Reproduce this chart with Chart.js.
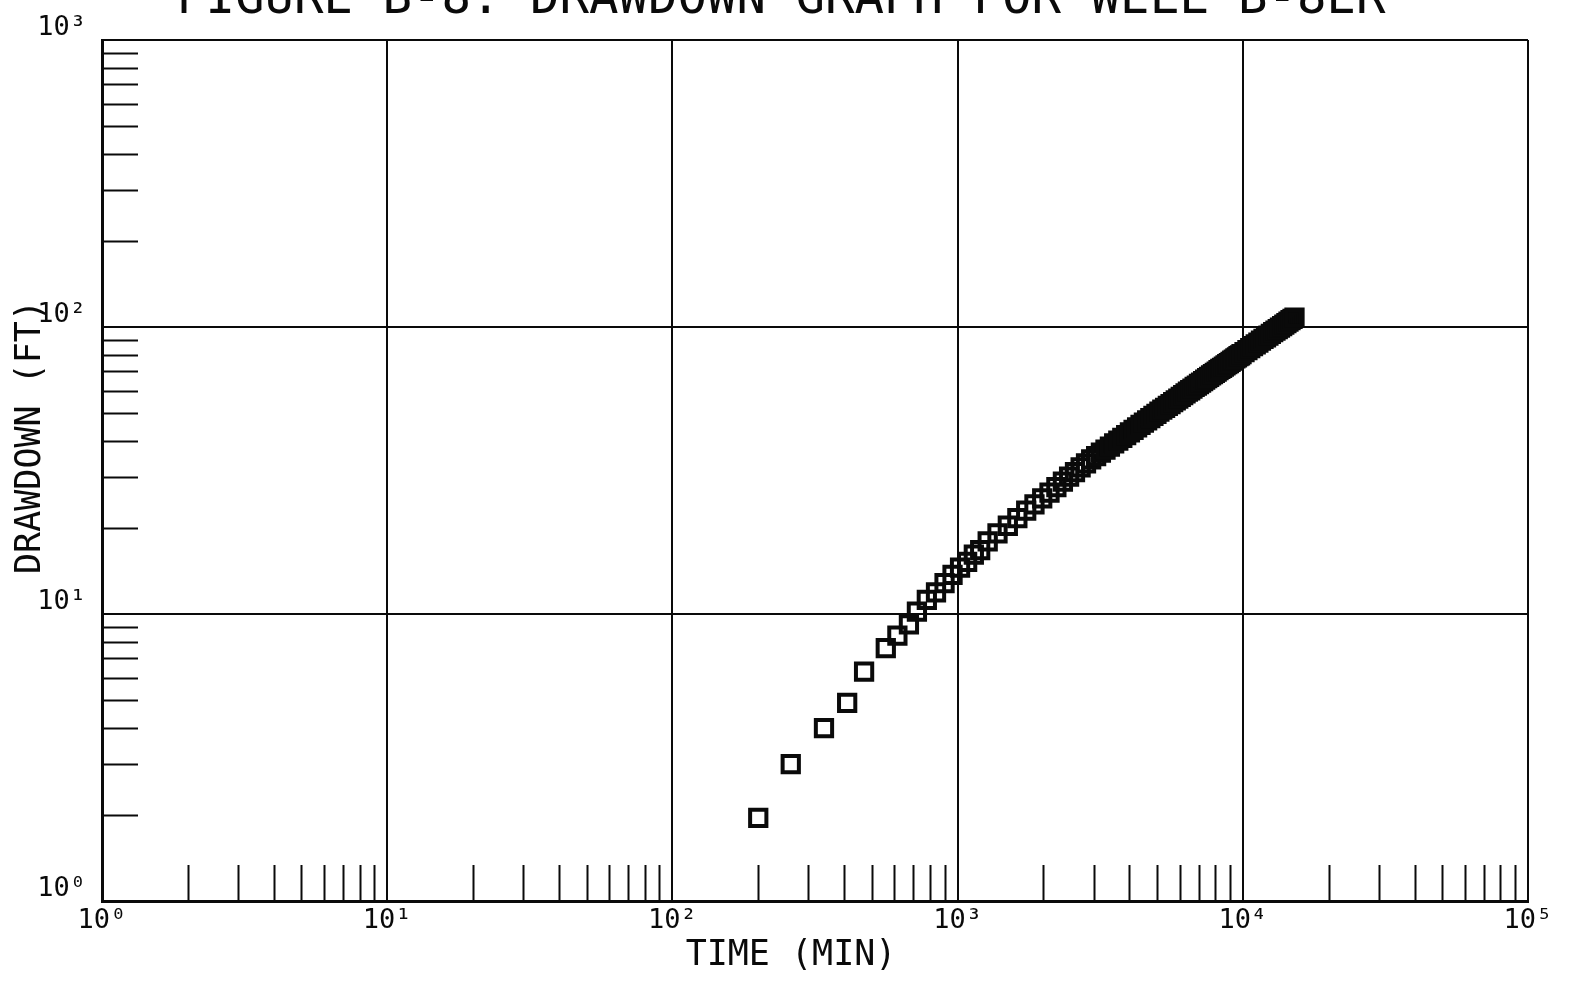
<!DOCTYPE html>
<html>
<head>
<title>DRAWDOWN GRAPH</title>
<script src="https://cdn.jsdelivr.net/npm/chart.js@4.4.1/dist/chart.umd.min.js"></script>
<style>
  html, body { margin: 0; padding: 0; background: #fff; }
  #wrap { position: relative; width: 1573px; height: 981px; }
</style>
</head>
<body>
<div id="wrap">
  <canvas id="myChart" width="1573" height="981"></canvas>
</div>

<script>
// elapsed time since pumping started (min)
var timeMin = [
  200, 260, 340, 410, 470, 560, 615, 675, 720, 780, 840, 900, 960, 1020, 1080, 1140, 1200, 1275,
  1380, 1500, 1620, 1740, 1860, 1980, 2100, 2220, 2340, 2460, 2580, 2700, 2820, 2940,
  3060, 3180, 3300, 3420, 3540, 3660, 3780, 3900, 4020, 4140, 4260, 4380, 4500, 4620, 4740,
  4860, 4980, 5100, 5220, 5340, 5460, 5580, 5700, 5820, 5940, 6060, 6180, 6300, 6420, 6540,
  6660, 6780, 6900, 7020, 7140, 7260, 7380, 7500, 7620, 7740, 7860, 7980, 8100, 8220, 8340,
  8460, 8580, 8700, 8820, 8940, 9060, 9180, 9300, 9420, 9540, 9660, 9780, 9900,
  10140, 10380, 10620, 10860, 11100, 11340, 11580, 11820, 12060, 12300, 12540, 12780, 13020,
  13260, 13500, 13740, 13980, 14220, 14460, 14700, 14940, 15180
];
// drawdown (ft)
var drawdownFt = [
  1.95, 3.0, 4.0, 4.9, 6.3, 7.6, 8.4, 9.2, 10.2, 11.2, 11.9, 12.8, 13.7, 14.5, 15.2, 16.1, 16.7, 17.9,
  19.1, 20.3, 21.6, 22.9, 24.1, 25.3, 26.5, 27.7, 28.9, 30.1, 31.2, 32.4, 33.5, 34.6,
  35.5, 36.5, 37.4, 38.3, 39.3, 40.2, 41.1, 42.0, 42.9, 43.8, 44.7, 45.6, 46.4, 47.3, 48.1,
  49.0, 49.8, 50.7, 51.5, 52.3, 53.1, 53.9, 54.7, 55.5, 56.3, 57.1, 57.9, 58.7, 59.5, 60.2,
  61.0, 61.8, 62.5, 63.3, 64.0, 64.8, 65.5, 66.3, 67.0, 67.8, 68.5, 69.2, 69.9, 70.7, 71.4,
  72.1, 72.8, 73.5, 74.2, 74.9, 75.6, 76.3, 77.0, 77.7, 78.4, 79.1, 79.7, 80.4,
  81.8, 83.1, 84.4, 85.7, 87.0, 88.3, 89.6, 90.9, 92.1, 93.4, 94.6, 95.9, 97.1,
  98.3, 99.5, 100.8, 102.0, 103.2, 104.4, 105.6, 106.7, 107.9
];

var xTickValues = [1, 10, 100, 1000, 10000, 100000];
var xTickLabels = ['10⁰', '10¹', '10²', '10³', '10⁴', '10⁵'];
var yTickValues = [1, 10, 100, 1000];
var yTickLabels = ['10⁰', '10¹', '10²', '10³'];
var minorSteps = [2, 3, 4, 5, 6, 7, 8, 9];

var titleText = 'FIGURE B-8. DRAWDOWN GRAPH FOR WELL B-8ER';
var xTitle = 'TIME (MIN)';
var yTitle = 'DRAWDOWN (FT)';

var FONT = "'DejaVu Sans Mono', 'Liberation Mono', monospace";
var INK = '#0a0a0a';

// short log-cycle ticks drawn inward from the left and bottom axes
var minorTicks = {
  id: 'minorTicks',
  beforeDatasetsDraw: function (chart) {
    var ctx = chart.ctx, xs = chart.scales.x, ys = chart.scales.y, a = chart.chartArea;
    ctx.save();
    ctx.strokeStyle = INK;
    ctx.lineWidth = 2;
    ctx.beginPath();
    for (var i = 0; i < xTickValues.length - 1; i++) {
      minorSteps.forEach(function (m) {
        var px = Math.round(xs.getPixelForValue(xTickValues[i] * m)) + 0.5;
        ctx.moveTo(px, a.bottom);
        ctx.lineTo(px, a.bottom - 36);
      });
    }
    for (var j = 0; j < yTickValues.length - 1; j++) {
      minorSteps.forEach(function (m) {
        var py = Math.round(ys.getPixelForValue(yTickValues[j] * m)) + 0.5;
        ctx.moveTo(a.left, py);
        ctx.lineTo(a.left + 36, py);
      });
    }
    ctx.stroke();
    ctx.restore();
  }
};

// title (cut by the top edge, as on the scan) and axis titles
var textBits = {
  id: 'textBits',
  afterDraw: function (chart) {
    var ctx = chart.ctx;
    ctx.save();
    ctx.fillStyle = INK;
    ctx.textBaseline = 'alphabetic';

    ctx.font = '49px ' + FONT;
    ctx.textAlign = 'left';
    ctx.fillText(titleText, 176, 13);

    ctx.font = '35px ' + FONT;
    ctx.textAlign = 'center';
    ctx.fillText(xTitle, 791, 965);

    ctx.translate(40, 437);
    ctx.rotate(-Math.PI / 2);
    ctx.fillText(yTitle, 0, 0);
    ctx.restore();
  }
};

var ctx = document.getElementById('myChart').getContext('2d');
var chart = new Chart(ctx, {
  type: 'scatter',
  data: {
    datasets: [{
      data: timeMin.map(function (t, i) { return { x: t, y: drawdownFt[i] }; }),
      pointStyle: 'rect',
      pointRadius: 11.5,
      pointHoverRadius: 11.5,
      pointBorderWidth: 4,
      borderColor: INK,
      backgroundColor: 'rgba(0,0,0,0)'
    }]
  },
  options: {
    responsive: false,
    animation: false,
    layout: { padding: { top: 40, right: 45, left: 0, bottom: 0 } },
    plugins: {
      legend: { display: false },
      tooltip: { enabled: false }
    },
    scales: {
      x: {
        type: 'logarithmic',
        min: 1,
        max: 100000,
        afterBuildTicks: function (s) { s.ticks = xTickValues.map(function (v) { return { value: v }; }); },
        afterFit: function (s) { s.height = 80; },
        ticks: {
          autoSkip: false,
          maxRotation: 0,
          padding: 4,
          color: INK,
          font: { family: FONT, size: 27 },
          callback: function (v) { return xTickLabels[xTickValues.indexOf(v)]; }
        },
        grid: { color: INK, lineWidth: 2, drawTicks: false },
        border: { color: INK, width: 3 }
      },
      y: {
        type: 'logarithmic',
        min: 1,
        max: 1000,
        afterBuildTicks: function (s) { s.ticks = yTickValues.map(function (v) { return { value: v }; }); },
        afterFit: function (s) { s.width = 102; },
        ticks: {
          autoSkip: false,
          padding: 16,
          labelOffset: -12,
          color: INK,
          font: { family: FONT, size: 27 },
          callback: function (v) { return yTickLabels[yTickValues.indexOf(v)]; }
        },
        grid: { color: INK, lineWidth: 2, drawTicks: false },
        border: { color: INK, width: 3 }
      }
    }
  },
  plugins: [minorTicks, textBits]
});
</script>
</body>
</html>
